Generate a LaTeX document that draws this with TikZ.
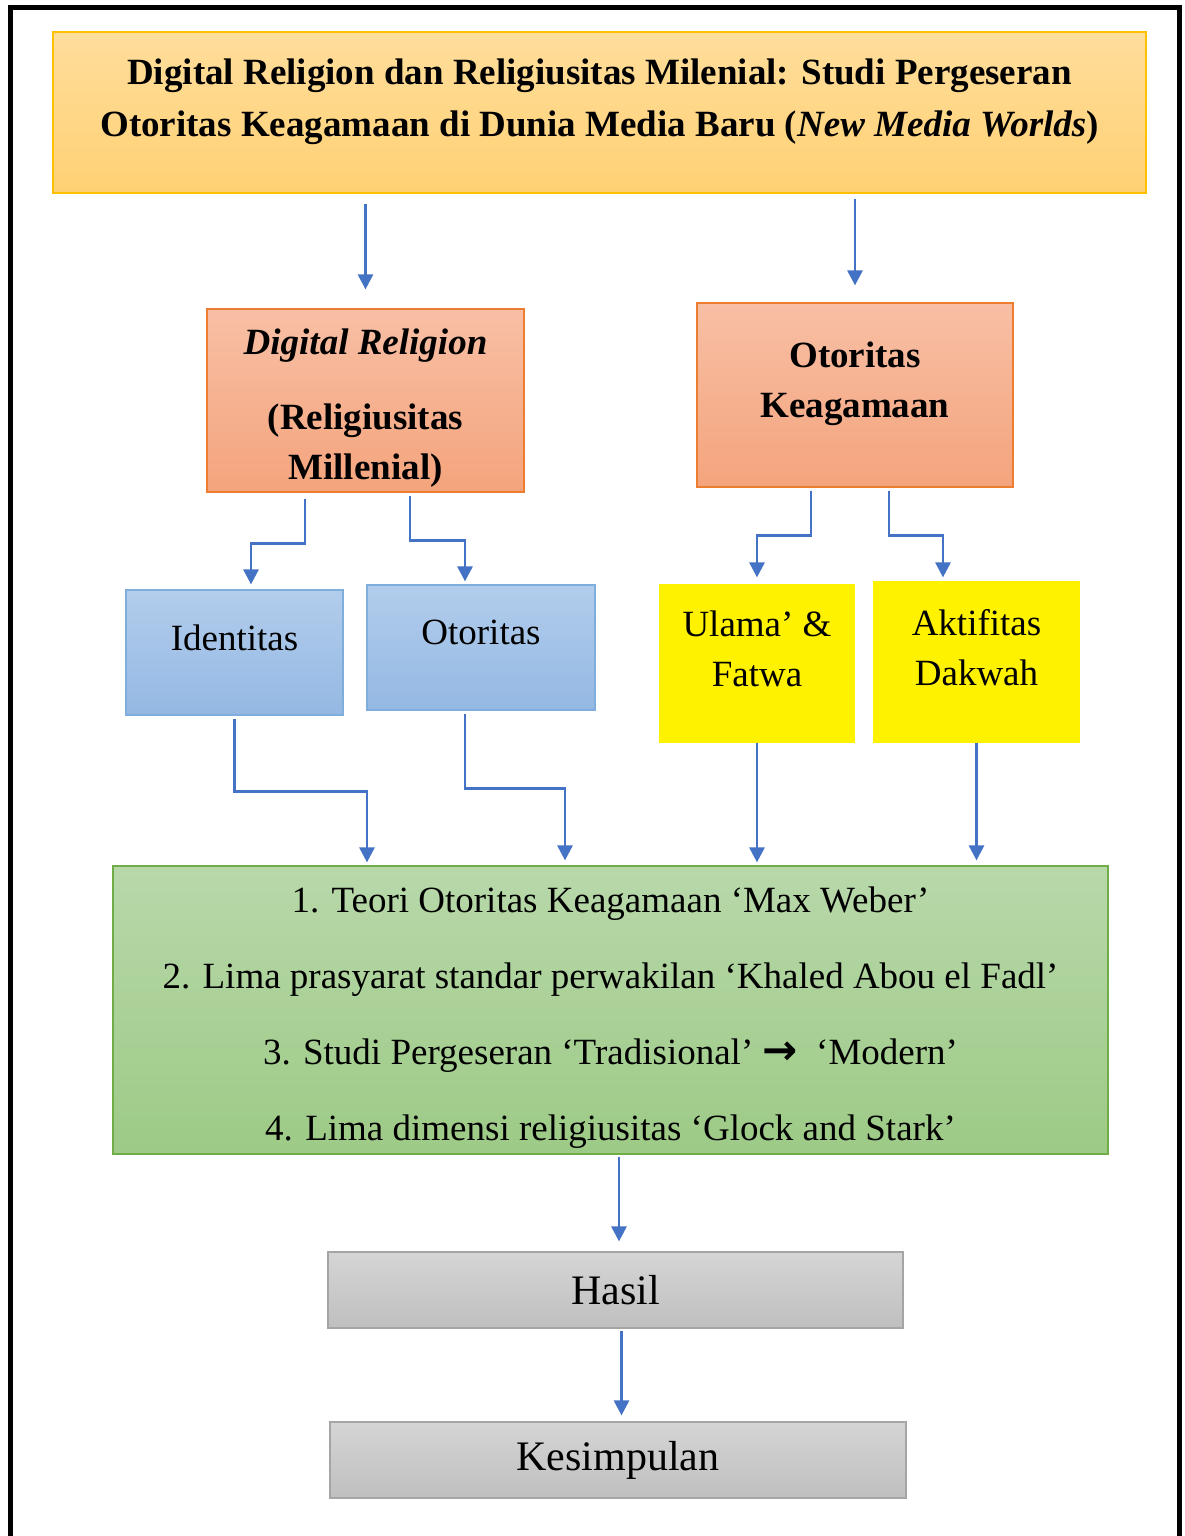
\documentclass[tikz,border=0pt]{standalone}
\usepackage{fontspec}
\setmainfont{Liberation Serif}
\newfontfamily\symfont{DejaVu Sans}
\usepackage{xcolor}
\usetikzlibrary{arrows.meta,calc}

\definecolor{arrowblue}{HTML}{4472C4}
\definecolor{goldline}{HTML}{FFC000}
\definecolor{orangeline}{HTML}{ED7D31}
\definecolor{blueline}{HTML}{7FAEDC}
\definecolor{greenline}{HTML}{70AD47}
\definecolor{grayline}{HTML}{A5A5A5}

% pushes the text of a box a little upwards / downwards
\newcommand{\lift}{\rule[-15pt]{0pt}{15pt}}
\newcommand{\sink}{\rule{0pt}{20pt}}

\begin{document}
\begin{tikzpicture}[
    x=0.5pt, y=0.5pt,
    box/.style={rectangle, draw, inner sep=0pt, align=center, line width=0.6pt, font=\fontsize{18.5}{25}\selectfont},
    titlebox/.style={box, draw=goldline, top color={rgb,255:red,255;green,221;blue,155}, bottom color={rgb,255:red,255;green,209;blue,116}, font=\fontsize{18.5}{26}\selectfont\bfseries},
    topicbox/.style={box, draw=orangeline, top color={rgb,255:red,248;green,191;blue,165}, bottom color={rgb,255:red,244;green,164;blue,124}, font=\fontsize{18.5}{25}\selectfont\bfseries},
    subbox/.style={box, draw=blueline, top color={rgb,255:red,178;green,205;blue,236}, bottom color={rgb,255:red,148;green,184;blue,227}},
    markbox/.style={box, draw=yellow, fill=yellow},
    theorybox/.style={box, draw=greenline, top color={rgb,255:red,184;green,216;blue,170}, bottom color={rgb,255:red,157;green,202;blue,134}, font=\fontsize{18.5}{38}\selectfont},
    resultbox/.style={box, draw=grayline, top color={rgb,255:red,213;green,213;blue,213}, bottom color={rgb,255:red,191;green,191;blue,191}, font=\fontsize{21}{26}\selectfont},
    link/.style={-{Triangle[width=7.5pt,length=7.5pt]}, line width=1.4pt, draw=arrowblue}
]
\useasboundingbox (0,0) rectangle (1184,-1536);

% Frame
\draw[line width=2.5pt] (10.5,-1545) -- (10.5,-7.5) -- (1179.5,-7.5) -- (1179.5,-1545);

% Title
\node[titlebox, minimum width=546.5pt, minimum height=80.5pt] (title) at (599.5,-112.5)
    {Digital Religion dan Religiusitas Milenial: Studi Pergeseran\\Otoritas Keagamaan di Dunia Media Baru (\textit{New Media Worlds})\lift};

% Topics
\node[topicbox, minimum width=158.5pt, minimum height=91.5pt] (digital) at (365.5,-400.5)
    {\sink\textit{Digital Religion}\\[12.5pt](Religiusitas\\Millenial)};
\node[topicbox, minimum width=158pt, minimum height=92pt] (otoritas) at (855,-395)
    {Otoritas\\Keagamaan\lift};

% Sub topics
\node[subbox, minimum width=108.5pt, minimum height=62.5pt] (identitas) at (234.5,-652.5) {Identitas\lift};
\node[subbox, minimum width=114pt, minimum height=62.5pt] (otor) at (481,-647.5) {Otoritas\lift};
\node[markbox, minimum width=97pt, minimum height=78.5pt] (ulama) at (757,-663.5) {Ulama’ \&\\Fatwa\lift};
\node[markbox, minimum width=102.5pt, minimum height=80pt] (dakwah) at (976.5,-662) {Aktifitas\\Dakwah\lift};

% Theories
\node[theorybox, minimum width=497.5pt, minimum height=144pt] (teori) at (610.5,-1010)
    {\sink 1. Teori Otoritas Keagamaan ‘Max Weber’\\
     2. Lima prasyarat standar perwakilan ‘Khaled Abou el Fadl’\\
     3. Studi Pergeseran ‘Tradisional’ {\symfont\bfseries\fontsize{21}{38}\selectfont →}\ \ ‘Modern’\\
     4. Lima dimensi religiusitas ‘Glock and Stark’};

% Results
\node[resultbox, minimum width=287.5pt, minimum height=38pt] (hasil) at (615.5,-1290) {Hasil};
\node[resultbox, minimum width=288pt, minimum height=38pt] (kesimpulan) at (618,-1460) {Kesimpulan};

% Connections
\draw[link, shorten <=5pt, shorten >=9.5pt] (title.south -| digital) -- (digital.north);
\draw[link, shorten <=2.5pt, shorten >=8.5pt] (title.south -| otoritas) -- (otoritas.north);

\draw[link, shorten >=2.5pt] ([xshift=-30.25pt,yshift=-3pt]digital.south) -- ++(0,-45) -| ([xshift=8.25pt]identitas.north);
\draw[link, shorten >=1.5pt] ([xshift=22.25pt,yshift=-1.5pt]digital.south) -- ++(0,-45) -| ([xshift=-8pt]otor.north);
\draw[link, shorten >=3.5pt] ([xshift=-22pt,yshift=-1.5pt]otoritas.south) -- ++(0,-45) -| (ulama.north);
\draw[link, shorten >=2pt] ([xshift=17pt,yshift=-1.5pt]otoritas.south) -- ++(0,-45) -| ([xshift=-16.75pt]dakwah.north);

\draw[link, shorten >=1.5pt] ([yshift=-1.5pt]identitas.south) -- ++(0,-73) -| ([xshift=-121.75pt]teori.north);
\draw[link, shorten >=2.5pt] ([xshift=-8pt,yshift=-1.5pt]otor.south) -- ++(0,-75) -| ([xshift=-22.75pt]teori.north);
\draw[link, shorten >=1.5pt] (ulama.south) -- (ulama.south |- teori.north);
\draw[link, shorten >=2.5pt] (dakwah.south) -- (dakwah.south |- teori.north);

\draw[link, shorten <=1pt, shorten >=5pt] ([xshift=1.75pt]hasil.north |- teori.south) -- ([xshift=1.75pt]hasil.north);
\draw[link, shorten <=1pt, shorten >=3pt] ([xshift=3pt]hasil.south) -- ([xshift=3pt]hasil.south |- kesimpulan.north);

\end{tikzpicture}
\end{document}
